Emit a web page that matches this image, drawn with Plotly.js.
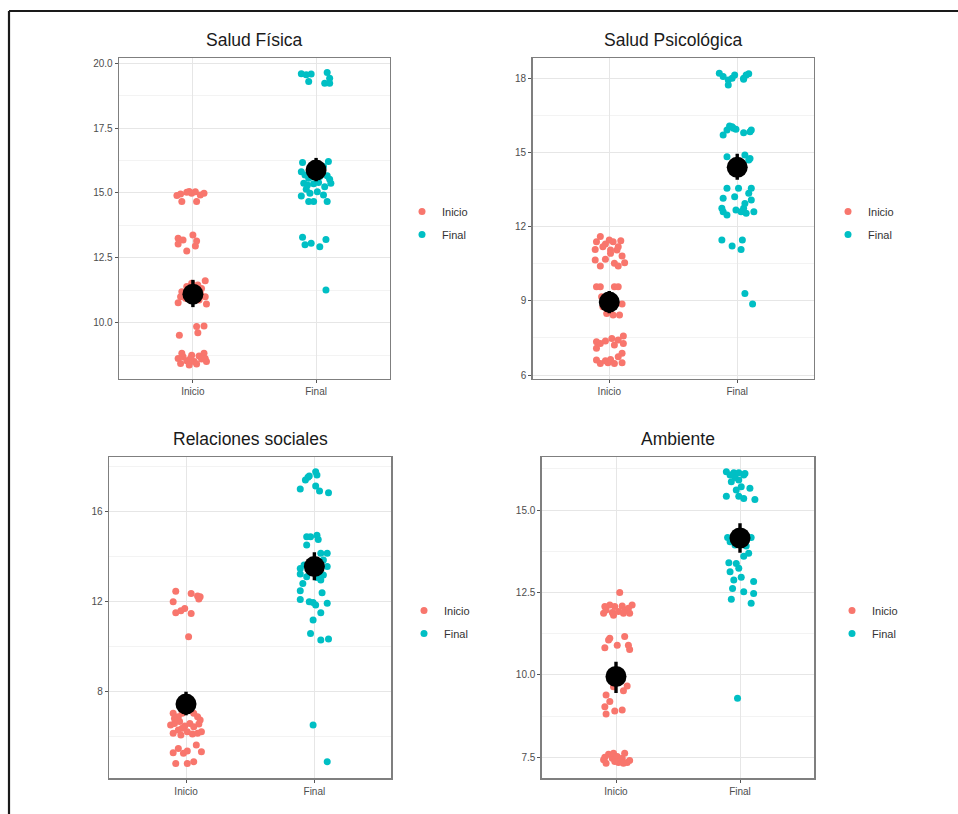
<!DOCTYPE html>
<html>
<head>
<meta charset="utf-8">
<script src="https://cdn.plot.ly/plotly-3.0.1.min.js"></script>
<style>html,body{margin:0;padding:0;background:#fff;}#chart{width:958px;height:814px;}</style>
</head>
<body>
<div id="chart"></div>
<script>
// ---------- data ----------
const groups = ["Inicio", "Final"];
const panelTitles = ["Salud Física", "Salud Psicológica", "Relaciones sociales", "Ambiente"];

// Panel 1: Salud Física
const p1InicioVals = [14.90,14.67,15.03,14.99,15.05,14.67,14.92,14.99,14.96,15.06,
  13.25,13.03,13.19,12.76,13.38,12.96,13.15,
  10.77,11.00,11.39,11.52,11.26,11.45,11.13,11.62,10.72,11.00,10.87,11.19,10.94,11.32,
  9.52,9.85,9.87,9.61,
  8.62,8.43,8.69,8.53,8.37,8.75,8.50,8.41,8.72,8.60,8.82,8.50,8.82,8.62,8.62];
const p1InicioJit = [-0.13,-0.09,-0.05,-0.01,0.02,0.03,0.06,0.09,-0.10,-0.03,
  -0.12,-0.12,-0.08,-0.05,0.00,0.02,0.03,
  -0.12,-0.10,-0.05,-0.01,0.01,0.04,0.06,0.10,0.11,0.10,0.05,-0.09,-0.06,0.07,
  -0.11,0.03,0.09,0.04,
  -0.12,-0.10,-0.08,-0.05,-0.03,-0.01,0.01,0.03,0.05,0.07,0.09,0.11,-0.09,-0.02,0.10];
const p1FinalVals = [19.59,19.55,19.58,19.29,19.64,19.42,19.23,19.23,
  16.17,16.21,16.02,15.82,15.69,15.57,15.63,15.63,15.66,15.37,15.37,15.31,15.35,15.40,15.24,15.53,
  14.88,14.99,15.05,14.92,14.67,14.67,14.67,15.14,
  13.29,13.00,13.06,12.93,13.21,11.26];
const p1FinalJit = [-0.12,-0.08,-0.04,-0.06,0.09,0.11,0.07,0.11,
  -0.11,0.10,0.06,-0.12,-0.09,-0.06,-0.04,0.03,0.09,0.12,-0.10,-0.07,-0.02,0.02,0.07,0.11,
  -0.12,-0.05,0.01,0.06,-0.06,-0.02,0.09,-0.08,
  -0.11,-0.09,-0.04,0.03,0.08,0.08];
const p1Means = [11.10, 15.88];
const p1Low = [10.60, 15.45];
const p1High = [11.65, 16.35];

// Panel 2: Salud Psicológica
const p2InicioVals = [11.39,11.60,11.30,11.46,11.39,11.06,11.19,11.43,11.06,11.08,11.19,
  10.65,10.41,10.68,10.52,10.41,10.81,10.54,10.92,
  9.57,9.57,9.57,9.57,
  8.49,8.43,8.43,8.87,9.17,8.76,
  7.35,7.28,7.38,7.48,7.21,7.28,7.58,7.08,7.42,
  6.61,6.47,6.58,6.50,6.63,6.47,6.88,6.50,6.74];
const p2InicioJit = [-0.10,-0.07,-0.03,0.00,0.03,0.06,0.07,0.09,0.01,-0.11,-0.05,
  -0.11,-0.07,-0.03,0.04,0.07,0.10,0.12,0.01,
  -0.10,-0.07,0.04,0.07,
  -0.02,0.03,0.08,0.10,-0.06,-0.05,
  -0.10,-0.07,-0.03,0.02,0.04,0.11,0.11,-0.10,0.07,
  -0.10,-0.07,-0.03,-0.01,0.01,0.04,0.10,0.10,0.07];
const p2FinalVals = [18.20,18.07,17.93,17.73,18.00,18.13,18.00,18.13,18.18,17.96,
  15.71,15.91,16.07,15.98,15.94,15.80,15.84,15.91,16.04,
  14.83,14.90,14.70,14.76,
  13.55,13.55,13.55,13.15,13.21,13.35,13.08,12.74,12.47,12.60,12.67,12.74,12.54,12.60,12.94,12.60,
  11.46,11.22,11.46,11.08,9.30,8.87];
const p2FinalJit = [-0.14,-0.11,-0.07,-0.07,-0.04,-0.02,0.05,0.07,0.09,0.05,
  -0.11,-0.08,-0.06,-0.03,-0.01,0.05,0.10,0.11,-0.04,
  -0.08,0.06,0.09,0.10,
  -0.08,0.01,0.11,-0.11,-0.02,0.09,0.11,-0.12,-0.08,-0.11,-0.01,0.05,0.07,0.13,0.06,0.03,
  -0.12,-0.04,0.04,0.03,0.06,0.12];
const p2Means = [8.95, 14.40];
const p2Low = [8.50, 13.90];
const p2High = [9.40, 14.95];

// Panel 3: Relaciones sociales
const p3InicioVals = [12.47,12.00,11.51,11.60,11.70,11.48,12.37,12.25,12.12,12.22,10.44,
  7.04,6.89,7.04,7.04,6.89,6.52,6.59,6.67,6.47,6.59,6.44,6.56,6.22,6.15,6.30,6.37,6.22,6.12,6.15,6.81,6.74,6.07,
  5.29,5.48,5.26,5.36,5.63,5.33,4.81,4.81,4.89];
const p3InicioJit = [-0.08,-0.10,-0.08,-0.04,-0.01,0.04,0.04,0.09,0.10,0.11,0.02,
  -0.10,-0.06,-0.03,0.06,0.09,-0.12,-0.09,-0.05,-0.01,0.03,0.06,0.10,0.12,-0.10,-0.06,-0.03,0.01,0.05,0.09,-0.09,0.11,-0.04,
  -0.10,-0.06,-0.02,0.01,0.08,0.12,-0.08,0.01,0.06];
const p3FinalVals = [17.01,17.41,17.53,17.59,17.78,17.63,17.14,16.92,16.84,
  14.89,14.89,14.96,14.77,14.52,
  13.48,13.23,13.63,13.59,13.56,14.15,14.15,13.85,13.33,13.19,12.96,13.56,12.81,12.49,12.10,12.00,11.85,12.40,11.93,11.96,13.08,13.11,
  11.19,11.51,10.59,10.30,10.34,6.52,4.89];
const p3FinalJit = [-0.11,-0.07,-0.05,-0.04,0.01,0.02,0.01,0.04,0.11,
  -0.06,-0.03,0.02,0.03,-0.06,
  -0.11,-0.11,-0.08,-0.05,-0.03,0.05,0.10,0.07,0.02,0.07,0.05,0.10,-0.09,-0.11,-0.11,-0.04,0.01,0.06,0.10,-0.01,0.02,-0.06,
  -0.01,0.05,-0.03,0.05,0.11,-0.01,0.10];
const p3Means = [7.45, 13.56];
const p3Low = [6.95, 12.95];
const p3High = [8.00, 14.20];

// Panel 4: Ambiente
const p4InicioVals = [12.50,
  11.87,11.97,12.12,11.89,12.07,11.92,12.09,11.97,12.02,12.12,11.87,12.07,11.87,11.81,
  10.82,11.11,10.90,11.16,10.90,10.77,11.06,
  9.64,9.52,9.66,9.39,9.19,8.90,8.93,9.03,8.81,
  7.42,7.32,7.59,7.47,7.62,7.52,7.34,7.47,7.62,7.34,7.40,7.32,7.37,7.50];
const p4InicioJit = [0.03,
  -0.10,-0.08,-0.05,-0.03,-0.01,0.02,0.05,0.07,0.10,0.13,0.11,-0.09,0.06,-0.02,
  -0.09,-0.05,0.01,0.07,0.10,0.11,-0.06,
  -0.02,0.06,0.09,-0.08,-0.05,-0.01,0.05,-0.09,-0.08,
  -0.10,-0.08,-0.06,-0.03,-0.02,0.01,0.02,0.05,0.07,0.09,0.11,0.06,-0.01,-0.09];
const p4FinalVals = [16.16,16.06,16.13,15.99,15.91,16.13,16.06,16.11,15.71,15.66,15.42,15.61,15.42,15.35,15.32,15.86,
  14.17,14.04,13.94,13.99,14.17,13.91,14.04,14.19,
  13.40,13.38,13.60,13.69,13.23,13.13,12.96,12.88,12.83,12.62,12.52,12.47,12.29,12.17,9.29];
const p4FinalJit = [-0.11,-0.08,-0.05,-0.04,-0.01,-0.01,0.03,0.04,0.01,0.08,-0.11,-0.03,-0.01,0.03,0.12,-0.07,
  -0.10,-0.08,-0.04,0.03,0.09,0.05,0.01,-0.03,
  -0.09,-0.03,0.03,0.07,-0.01,-0.08,0.01,-0.05,0.11,-0.06,0.03,0.11,-0.07,0.09,-0.02];
const p4Means = [9.95, 14.15];
const p4Low = [9.45, 13.70];
const p4High = [10.40, 14.60];

// ---------- build ----------
const colInicio = "#F8766D", colFinal = "#00BFC4";
const panels = [
  {iv:p1InicioVals, ij:p1InicioJit, fv:p1FinalVals, fj:p1FinalJit, m:p1Means, lo:p1Low, hi:p1High},
  {iv:p2InicioVals, ij:p2InicioJit, fv:p2FinalVals, fj:p2FinalJit, m:p2Means, lo:p2Low, hi:p2High},
  {iv:p3InicioVals, ij:p3InicioJit, fv:p3FinalVals, fj:p3FinalJit, m:p3Means, lo:p3Low, hi:p3High},
  {iv:p4InicioVals, ij:p4InicioJit, fv:p4FinalVals, fj:p4FinalJit, m:p4Means, lo:p4Low, hi:p4High}
];
const traces = [];
panels.forEach((p, k) => {
  const sfx = k === 0 ? "" : String(k + 1);
  const xa = "x" + sfx, ya = "y" + sfx, lg = "legend" + sfx;
  traces.push({type:"scatter", mode:"markers", name:groups[0], legend:lg, legendgroup:"g0_"+k, xaxis:xa, yaxis:ya,
    x:p.iv.map((v,i)=>1+p.ij[i]), y:p.iv, marker:{color:colInicio, size:7}, hoverinfo:"y"});
  traces.push({type:"scatter", mode:"markers", name:groups[1], legend:lg, legendgroup:"g1_"+k, xaxis:xa, yaxis:ya,
    x:p.fv.map((v,i)=>2+p.fj[i]), y:p.fv, marker:{color:colFinal, size:7}, hoverinfo:"y"});
  traces.push({type:"scatter", mode:"markers", showlegend:false, xaxis:xa, yaxis:ya,
    x:[1,2], y:p.m,
    error_y:{type:"data", symmetric:false, array:p.hi.map((h,i)=>h-p.m[i]), arrayminus:p.m.map((m,i)=>m-p.lo[i]),
      color:"#000", thickness:3.4, width:0},
    marker:{color:"#000", size:21}});
});

const fontFam = "Liberation Sans, Arial, Helvetica, sans-serif";
function xax(dom, anchor){
  return {domain:dom, anchor:anchor, range:[0.4,2.6], tickvals:[1,2], ticktext:groups,
    showgrid:true, gridcolor:"#e6e6e6", gridwidth:1, zeroline:false,
    showline:true, mirror:true, linecolor:"#7f7f7f", linewidth:1.3,
    ticks:"outside", ticklen:3, tickcolor:"#555", tickwidth:1,
    tickfont:{family:fontFam, size:10, color:"#4d4d4d"}, fixedrange:true};
}
function yax(dom, anchor, range, dtick, fmt){
  return {domain:dom, anchor:anchor, range:range, tick0:0, dtick:dtick, tickformat:fmt,
    showgrid:true, gridcolor:"#e6e6e6", gridwidth:1, zeroline:false,
    minor:{dtick:dtick/2, tick0:0, showgrid:true, gridcolor:"#f0f0f0", gridwidth:0.8, ticks:""},
    showline:true, mirror:true, linecolor:"#7f7f7f", linewidth:1.3,
    ticks:"outside", ticklen:3, tickcolor:"#555", tickwidth:1,
    tickfont:{family:fontFam, size:10, color:"#4d4d4d"}, fixedrange:true};
}
const W = 958, H = 814;
const px = v => v / W, py = v => 1 - v / H;
const topDom = [py(379), py(58)], botDom = [py(778.3), py(457.3)];
function mkLegend(xpix, ypix){
  return {x:px(xpix), y:py(ypix), xanchor:"left", yanchor:"top", bgcolor:"rgba(0,0,0,0)",
    font:{family:fontFam, size:11, color:"#333"}, itemwidth:30,
    traceorder:"grouped", tracegroupgap:4};
}
const layout = {
  width:W, height:H, margin:{l:0,r:0,t:0,b:0}, paper_bgcolor:"#fff", plot_bgcolor:"#fff",
  showlegend:true,
  xaxis: xax([px(119), px(390)], "y"),
  yaxis: yax(topDom, "x", [7.83, 20.2], 2.5, ".1f"),
  xaxis2: xax([px(532.5), px(814)], "y2"),
  yaxis2: yax(topDom, "x2", [5.84, 18.82], 3, "d"),
  xaxis3: xax([px(109), px(391.4)], "y3"),
  yaxis3: yax(botDom, "x3", [4.15, 18.42], 4, "d"),
  xaxis4: xax([px(541.6), px(814.4)], "y4"),
  yaxis4: yax(botDom, "x4", [6.86, 16.6], 2.5, ".1f"),
  legend: mkLegend(402, 197),
  legend2: mkLegend(828, 197),
  legend3: mkLegend(404, 596),
  legend4: mkLegend(832, 596),
  annotations: panelTitles.map((t, i) => ({
    text:t, showarrow:false, xref:"paper", yref:"paper",
    x:px([254.5, 673, 250, 678][i]), y:py([40, 40, 439, 439][i]),
    xanchor:"center", yanchor:"middle",
    font:{family:fontFam, size:17.5, color:"#1a1a1a"}
  })),
  shapes:[
    {type:"line", xref:"paper", yref:"paper", x0:px(9), x1:1, y0:py(11), y1:py(11), line:{color:"#1a1a1a", width:2.2}},
    {type:"line", xref:"paper", yref:"paper", x0:px(9), x1:px(9), y0:py(11), y1:0, line:{color:"#1a1a1a", width:2.2}}
  ]
};
Plotly.newPlot("chart", traces, layout, {displayModeBar:false, staticPlot:true});
</script>
</body>
</html>
